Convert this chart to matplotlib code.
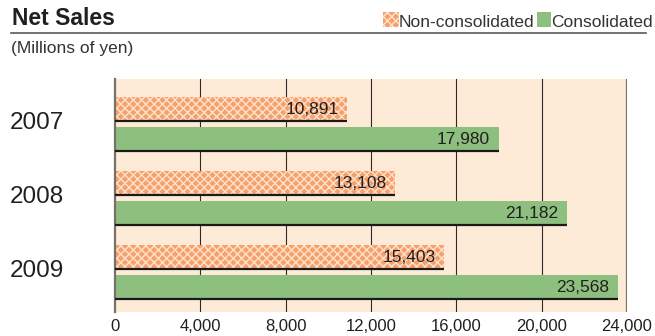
import matplotlib.pyplot as plt
from matplotlib.patches import Rectangle
from matplotlib.lines import Line2D

plt.rcParams['font.family'] = ['Liberation Sans', 'DejaVu Sans']
plt.rcParams['hatch.linewidth'] = 1.0

# 数据
years = ['2007', '2008', '2009']
non_consolidated = [10891, 13108, 15403]
consolidated = [17980, 21182, 23568]
xticks = [0, 4000, 8000, 12000, 16000, 20000, 24000]

W, H = 655, 336
TEXT = '#231f20'
ORANGE = '#f7a06a'
HATCH = '#fde3cf'
GREEN = '#8dbf7e'
BG = '#feebd7'

fig = plt.figure(figsize=(W / 100, H / 100), dpi=100)


def fx(px):
    return px / W


def fy(py):
    return 1 - py / H


# 坐标区
ax = fig.add_axes([fx(115), fy(312), fx(627) - fx(115), fy(79) - fy(312)])
ax.set_facecolor(BG)
ax.set_xlim(0, 24000)
ax.set_ylim(2.54, -0.61)

for v in xticks[1:-1]:
    ax.axvline(v, color='#2b2b2b', lw=0.8, zorder=1)
ax.axvline(24000, color='#7a706a', lw=1.6, zorder=1)

for s in ['top', 'right', 'bottom']:
    ax.spines[s].set_visible(False)
ax.spines['left'].set_color('#7a706a')
ax.spines['left'].set_linewidth(1.6)

pos = range(len(years))
h = 0.325
off = 0.203
y1 = [i - off for i in pos]
y2 = [i + off for i in pos]

ax.barh(y1, non_consolidated, height=h, color=ORANGE, edgecolor=HATCH,
        hatch='xxxx', lw=0, zorder=2)
ax.barh(y2, consolidated, height=h, color=GREEN, lw=0, zorder=2)

# 条形下方的黑线
for y, v in zip(y1 + y2, non_consolidated + consolidated):
    ax.plot([0, v], [y + h / 2, y + h / 2], color='#1a1a1a', lw=1.6,
            solid_capstyle='butt', zorder=3)
    ax.annotate(f'{v:,}', (v, y), xytext=(-6, 0), textcoords='offset points',
                ha='right', va='center', fontsize=12.5, color=TEXT, zorder=4)

ax.set_xticks(xticks)
ax.set_xticklabels([f'{v:,}' for v in xticks], fontsize=12, color=TEXT)
ax.tick_params(axis='x', length=0, pad=5)
ax.set_yticks([])

# 年份标签
for i, yr in enumerate(years):
    fig.text(fx(10), fy(123 + 74 * i), yr, ha='left', va='center',
             fontsize=17.5, color=TEXT)

# 标题和分隔线
fig.text(fx(12), fy(25), 'Net Sales', fontsize=16.5, fontweight='bold',
         color=TEXT, va='baseline')
fig.add_artist(Line2D([fx(11), fx(646)], [fy(33), fy(33)], color='#5a5a5a', lw=1.2))
fig.text(fx(11), fy(53), '(Millions of yen)', fontsize=12.5, color='#333333',
         va='baseline')

# 图例
fig.add_artist(Rectangle((fx(383), fy(27)), fx(16), fy(12) - fy(27),
                         facecolor=ORANGE, edgecolor=HATCH, hatch='xxxx', lw=0,
                         transform=fig.transFigure))
fig.text(fx(399), fy(27), 'Non-consolidated', fontsize=12.5, color='#333333',
         va='baseline')
fig.add_artist(Rectangle((fx(537), fy(27)), fx(14), fy(12) - fy(27),
                         facecolor=GREEN, lw=0, transform=fig.transFigure))
fig.text(fx(551), fy(27), 'Consolidated', fontsize=12.5, color='#333333',
         va='baseline')

fig.savefig('out.png', dpi=100)
